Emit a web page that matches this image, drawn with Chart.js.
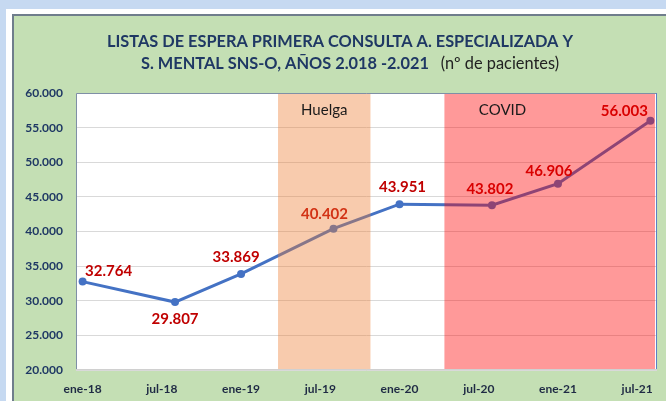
<!DOCTYPE html>
<html>
<head>
<meta charset="utf-8">
<script src="https://cdn.jsdelivr.net/npm/chart.js@4.4.1/dist/chart.umd.min.js"></script>
<style>
  html, body { margin: 0; padding: 0; background: #c6d9f1; }
  #grafico { display: block; }
</style>
</head>
<body>
<canvas id="grafico" width="666" height="401"></canvas>
<script>
// Datos del gráfico
const etiquetasX = ['ene-18', 'jul-18', 'ene-19', 'jul-19', 'ene-20', 'jul-20', 'ene-21', 'jul-21'];
const mesesTicks = [0, 6, 12, 18, 24, 30, 36, 42];          // meses desde ene-18
const mesesPuntos = [0, 7, 12, 19, 24, 31, 36, 43];         // fecha de cada corte
const pacientes = [32764, 29807, 33869, 40402, 43951, 43802, 46906, 56003];
const ticksY = [20000, 25000, 30000, 35000, 40000, 45000, 50000, 55000, 60000];

// Periodos marcados (en meses)
const periodos = ['Huelga', 'COVID'];
const periodoInicio = [14.8, 27.4];
const periodoFin = [21.8, 43.35];

// Estilo / colocación (no son datos)
const coloresPeriodo = ['rgba(237,125,49,0.4)', 'rgba(255,0,0,0.4)'];
const textoPeriodoX = [18.3, 31.8];
const desplazEtiquetas = [[26, -10], [0, 17], [-5, -17], [-9, -15], [3, -17], [-2, -16], [-9, -13], [-26, -10]];

const fuente = 'Lato, "Open Sans", sans-serif';

// Formato con punto de miles: 60.000
function formatoMiles(v) {
    const miles = Math.floor(v / 1000);
    const resto = String(Math.round(v % 1000)).padStart(3, '0');
    return miles + '.' + resto;
}

// Fondo: azul, franja blanca y panel verde
const fondoPlugin = {
    id: 'fondo',
    beforeDraw(chart) {
        const ctx = chart.ctx;
        ctx.save();
        ctx.fillStyle = '#c6d9f1';
        ctx.fillRect(0, 0, 666, 401);
        ctx.fillStyle = '#ffffff';
        ctx.fillRect(6, 9, 660, 392);
        ctx.fillStyle = '#c4dfb4';
        ctx.fillRect(12, 14, 654, 387);
        ctx.fillStyle = '#6f7d8c';
        ctx.fillRect(12, 14, 654, 2);
        ctx.fillRect(12, 14, 2, 387);

        // zona del gráfico en blanco
        const a = chart.chartArea;
        ctx.fillStyle = '#ffffff';
        ctx.fillRect(a.left, a.top, a.right - a.left, a.bottom - a.top);

        // Título en dos líneas
        ctx.textBaseline = 'middle';
        ctx.textAlign = 'left';
        const linea1 = 'LISTAS DE ESPERA PRIMERA CONSULTA A. ESPECIALIZADA Y';
        ctx.font = 'bold 17px ' + fuente;
        const escala = 466 / ctx.measureText(linea1).width;
        ctx.fillStyle = '#1f3864';
        ctx.save();
        ctx.translate(107, 42);
        ctx.scale(escala, 1);
        ctx.fillText(linea1, 0, 0);
        ctx.restore();

        const negrita = 'S. MENTAL SNS-O, AÑOS 2.018 -2.021';
        const normal = '(nº de pacientes)';
        ctx.font = 'bold 17px ' + fuente;
        const w1 = ctx.measureText(negrita).width * escala;
        ctx.font = '17px ' + fuente;
        const w2 = ctx.measureText(normal).width * escala;
        const hueco = 12;
        let x0 = 350 - (w1 + hueco + w2) / 2;
        ctx.save();
        ctx.translate(x0, 64);
        ctx.scale(escala, 1);
        ctx.font = 'bold 17px ' + fuente;
        ctx.fillStyle = '#1f3864';
        ctx.fillText(negrita, 0, 0);
        ctx.restore();
        ctx.save();
        ctx.translate(x0 + w1 + hueco, 64);
        ctx.scale(escala, 1);
        ctx.font = '17px ' + fuente;
        ctx.fillStyle = '#222222';
        ctx.fillText(normal, 0, 0);
        ctx.restore();
        ctx.restore();
    }
};

// Etiquetas de valores, bandas de periodos y marco
const etiquetasPlugin = {
    id: 'etiquetas',
    afterDatasetsDraw(chart) {
        const ctx = chart.ctx;
        const meta = chart.getDatasetMeta(0);
        const a = chart.chartArea;
        const sx = chart.scales.x;
        ctx.save();

        // valores en rojo
        ctx.font = 'bold 15px ' + fuente;
        ctx.fillStyle = '#c00000';
        ctx.textAlign = 'center';
        ctx.textBaseline = 'middle';
        meta.data.forEach((p, i) => {
            const d = desplazEtiquetas[i];
            ctx.fillText(formatoMiles(pacientes[i]), p.x + d[0], p.y + d[1]);
        });

        // bandas semitransparentes encima
        periodos.forEach((nombre, i) => {
            const x1 = Math.max(a.left, sx.getPixelForValue(periodoInicio[i]));
            const x2 = Math.min(a.right, sx.getPixelForValue(periodoFin[i]));
            ctx.fillStyle = coloresPeriodo[i];
            ctx.fillRect(x1, a.top, x2 - x1, a.bottom - a.top);
        });

        ctx.font = '15px ' + fuente;
        ctx.fillStyle = '#1a1a1a';
        periodos.forEach((nombre, i) => {
            ctx.fillText(nombre, sx.getPixelForValue(textoPeriodoX[i]), a.top + 17);
        });

        // marco del área de trazado
        ctx.strokeStyle = '#8497b0';
        ctx.lineWidth = 1;
        ctx.beginPath();
        ctx.moveTo(a.left + 0.5, a.bottom);
        ctx.lineTo(a.left + 0.5, a.top + 0.5);
        ctx.lineTo(a.right - 0.5, a.top + 0.5);
        ctx.strokeStyle = '#7f8fa6';
        ctx.stroke();
        ctx.beginPath();
        ctx.moveTo(a.right - 0.5, a.top);
        ctx.lineTo(a.right - 0.5, a.bottom);
        ctx.strokeStyle = '#5b7fc7';
        ctx.stroke();
        ctx.beginPath();
        ctx.moveTo(a.left, a.bottom - 0.5);
        ctx.lineTo(a.right, a.bottom - 0.5);
        ctx.strokeStyle = '#d0d0d0';
        ctx.stroke();
        ctx.restore();
    }
};

new Chart(document.getElementById('grafico'), {
    type: 'line',
    data: {
        datasets: [{
            data: mesesPuntos.map((m, i) => ({ x: m, y: pacientes[i] })),
            borderColor: '#4472c4',
            backgroundColor: '#4472c4',
            borderWidth: 3,
            pointRadius: 4,
            pointBackgroundColor: '#4472c4',
            pointBorderWidth: 0,
            tension: 0,
            clip: false
        }]
    },
    options: {
        responsive: false,
        animation: false,
        devicePixelRatio: 1,
        layout: { padding: { top: 93, right: 9, left: 0, bottom: 0 } },
        plugins: {
            legend: { display: false },
            tooltip: { enabled: false },
            title: { display: false }
        },
        scales: {
            x: {
                type: 'linear',
                min: -0.5,
                max: 43.5,
                afterBuildTicks: s => { s.ticks = mesesTicks.map(v => ({ value: v })); },
                afterFit: s => { s.height = 31; },
                ticks: {
                    autoSkip: false,
                    maxRotation: 0,
                    padding: 12,
                    color: '#1f2a44',
                    font: { family: fuente, size: 12, weight: 'bold' },
                    callback: v => etiquetasX[mesesTicks.indexOf(v)]
                },
                grid: { display: false, drawTicks: false },
                border: { display: false }
            },
            y: {
                min: 20000,
                max: 60000,
                afterBuildTicks: s => { s.ticks = ticksY.map(v => ({ value: v })); },
                afterFit: s => { s.width = 76; },
                ticks: {
                    padding: 13,
                    color: '#1f3864',
                    font: { family: fuente, size: 12, weight: 'bold' },
                    callback: v => formatoMiles(v)
                },
                grid: { color: '#d9d9d9', drawTicks: false },
                border: { display: false }
            }
        }
    },
    plugins: [fondoPlugin, etiquetasPlugin]
});
</script>
</body>
</html>
